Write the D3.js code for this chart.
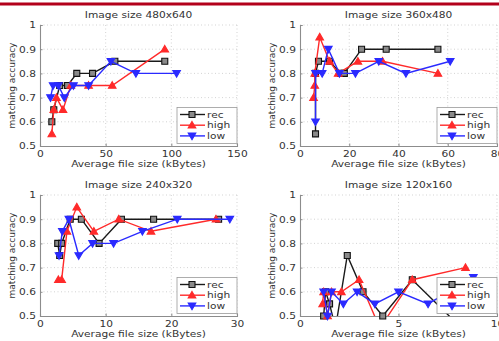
<!DOCTYPE html>
<html>
<head>
<meta charset="utf-8">
<script src="https://cdn.jsdelivr.net/npm/d3@7"></script>
<style>
  body { margin: 0; background: #fff; }
  svg { display: block; }
  text { font-family: "DejaVu Sans", sans-serif; fill: #333; }
</style>
</head>
<body>
<svg id="chart" width="499" height="341"></svg>
<script>
// Matching accuracy vs. average file size, one panel per image size.
const panelTitles = ["Image size 480x640", "Image size 360x480", "Image size 240x320", "Image size 120x160"];
const seriesNames = ["rec", "high", "low"];
const yTicks = [0.5, 0.6, 0.7, 0.8, 0.9, 1];
const yTickLabels = ["0.5", "0.6", "0.7", "0.8", "0.9", "1"];
const xTicks480 = [0, 50, 100, 150];
const xTicks360 = [0, 20, 40, 60, 80];
const xTicks240 = [0, 10, 20, 30];
const xTicks120 = [0, 5, 10];

// [average file size (kBytes), matching accuracy]
const rec480 = [[9,0.6],[10.5,0.65],[15,0.75],[21,0.75],[28,0.8],[40,0.8],[57,0.85],[95,0.85]];
const high480 = [[9,0.55],[10.5,0.65],[12.5,0.7],[17.5,0.65],[23.5,0.75],[37,0.75],[55,0.75],[95,0.9]];
const low480 = [[8,0.7],[10,0.75],[14,0.75],[18.5,0.7],[25.5,0.75],[37,0.75],[54,0.85],[73,0.8],[104,0.8]];

const rec360 = [[6.3,0.55],[6.3,0.8],[7.5,0.85],[12,0.85],[16.5,0.8],[18,0.8],[25,0.9],[35,0.9],[56,0.9]];
const high360 = [[5.5,0.7],[6,0.75],[6,0.8],[8,0.95],[12,0.85],[15.5,0.8],[23.5,0.85],[33.5,0.85],[56,0.8]];
const low360 = [[6.3,0.6],[6.3,0.8],[9,0.8],[11.5,0.9],[16,0.8],[22.5,0.8],[32,0.85],[43,0.8],[61,0.85]];

const rec240 = [[2.7,0.8],[3,0.75],[3.3,0.8],[4.6,0.9],[6.3,0.9],[9,0.8],[12.4,0.9],[17.3,0.9],[27.2,0.9]];
const high240 = [[2.8,0.65],[3.3,0.65],[4.1,0.85],[5.6,0.95],[8.2,0.85],[12,0.9],[16.9,0.85],[26.8,0.9]];
const low240 = [[2.9,0.75],[3.4,0.85],[4.4,0.9],[5.9,0.75],[8,0.8],[11.2,0.8],[15.6,0.85],[20.9,0.9],[28.9,0.9]];

const rec120 = [[1.2,0.5],[1.3,0.6],[1.5,0.55],[1.8,0.45],[2.4,0.75],[3.2,0.6],[4.2,0.5],[5.7,0.65],[8.2,0.45]];
const high120 = [[1.15,0.55],[1.2,0.6],[1.4,0.5],[1.6,0.6],[2.1,0.6],[3,0.65],[4.05,0.45],[5.7,0.65],[8.4,0.7]];
const low120 = [[1.2,0.6],[1.4,0.5],[1.6,0.6],[2.2,0.55],[2.9,0.6],[3.8,0.55],[5,0.6],[6.5,0.55],[8.8,0.66]];

const panels = [
  { title: panelTitles[0], xMax: 150, xTicks: xTicks480, series: [rec480, high480, low480], box: [40, 237, 25, 146] },
  { title: panelTitles[1], xMax: 80,  xTicks: xTicks360, series: [rec360, high360, low360], box: [300, 497, 25, 146] },
  { title: panelTitles[2], xMax: 30,  xTicks: xTicks240, series: [rec240, high240, low240], box: [40, 237, 195, 316] },
  { title: panelTitles[3], xMax: 10,  xTicks: xTicks120, series: [rec120, high120, low120], box: [300, 497, 195, 316] }
];

const styles = [
  { line: "#1a1a1a", fill: "#8a8a8a", stroke: "#111", shape: "square" },
  { line: "#ff2a2a", fill: "#ff2a2a", stroke: "#ff2a2a", shape: "up" },
  { line: "#2a2aff", fill: "#2a2aff", stroke: "#2a2aff", shape: "down" }
];

const svg = d3.select("#chart");

// top rule
svg.append("rect").attr("x", 0).attr("y", 2.5).attr("width", 499).attr("height", 3).attr("fill", "#b3001b");

function markerPath(shape) {
  if (shape === "square") return "M-3,-3H3V3H-3Z";
  if (shape === "up") return "M0,-3.8L3.8,2.8H-3.8Z";
  return "M0,3.8L3.8,-2.8H-3.8Z";
}

function drawMarker(g, st, x, y) {
  g.append("path")
    .attr("d", markerPath(st.shape))
    .attr("transform", `translate(${x},${y})`)
    .attr("fill", st.fill)
    .attr("stroke", st.stroke)
    .attr("stroke-width", 1.1);
}

const stretched = [];

panels.forEach((p, i) => {
  const [L, R, T, B] = p.box;
  const x = d3.scaleLinear().domain([0, p.xMax]).range([L, R]);
  const y = d3.scaleLinear().domain([0.5, 1]).range([B, T]);
  const g = svg.append("g");

  // dotted grid
  g.append("g").selectAll("line").data(p.xTicks.filter(t => t > 0)).join("line")
    .attr("x1", d => x(d)).attr("x2", d => x(d)).attr("y1", T).attr("y2", B)
    .attr("stroke", "#c8c8c8").attr("stroke-width", 0.8).attr("stroke-dasharray", "1,2.5");
  g.append("g").selectAll("line").data(yTicks.filter(t => t > 0.5)).join("line")
    .attr("x1", L).attr("x2", R).attr("y1", d => y(d)).attr("y2", d => y(d))
    .attr("stroke", "#c8c8c8").attr("stroke-width", 0.8).attr("stroke-dasharray", "1,2.5");

  // axes
  const xAxis = d3.axisBottom(x).tickValues(p.xTicks).tickSize(-2.5).tickPadding(4).tickFormat(d3.format("d"));
  const yAxis = d3.axisLeft(y).tickValues(yTicks).tickSize(-2.5).tickPadding(4)
    .tickFormat((d, k) => yTickLabels[k]);
  const gx = g.append("g").attr("transform", `translate(0,${B})`).call(xAxis);
  const gy = g.append("g").attr("transform", `translate(${L},0)`).call(yAxis);
  [gx, gy].forEach(a => {
    a.select(".domain").attr("stroke", "#8c8c8c").attr("stroke-width", 1.1);
    a.selectAll(".tick line").attr("stroke", "#8c8c8c");
    a.selectAll("text").attr("font-size", 9).attr("font-family", "DejaVu Sans, sans-serif").attr("fill", "#333");
  });
  gx.selectAll("text").attr("dy", "0.71em").attr("y", 5);
  gx.selectAll("text").each(function () { stretched.push(this); });
  gy.selectAll("text").each(function () { stretched.push(this); });

  // titles and labels
  stretched.push(g.append("text").attr("x", (L + R) / 2).attr("y", T - 7)
    .attr("text-anchor", "middle").attr("font-size", 9).attr("fill", "#222").text(p.title).node());
  stretched.push(g.append("text").attr("x", (L + R) / 2).attr("y", B + 21)
    .attr("text-anchor", "middle").attr("font-size", 9).attr("fill", "#222").text("Average file size (kBytes)").node());
  g.append("text").attr("transform", `translate(${L - 25},${(T + B) / 2}) rotate(-90)`)
    .attr("text-anchor", "middle").attr("font-size", 9).attr("fill", "#222").text("matching accuracy");

  // series
  const clipId = "clip" + i;
  svg.append("clipPath").attr("id", clipId).append("rect")
    .attr("x", L).attr("y", T).attr("width", R - L).attr("height", B - T);
  const line = d3.line().x(d => x(d[0])).y(d => y(d[1]));
  p.series.forEach((data, s) => {
    const st = styles[s];
    g.append("path").datum(data).attr("d", line).attr("fill", "none")
      .attr("stroke", st.line).attr("stroke-width", 1.4).attr("clip-path", `url(#${clipId})`);
    const mg = g.append("g");
    data.filter(d => d[1] >= 0.5 && d[0] <= p.xMax).forEach(d => drawMarker(mg, st, x(d[0]), y(d[1])));
  });

  // legend
  const lw = 60, lh = 36;
  const lg = g.append("g").attr("transform", `translate(${R - lw},${B - 2.5 - lh})`);
  lg.append("rect").attr("width", lw).attr("height", lh).attr("fill", "#fff")
    .attr("stroke", "#9a9a9a").attr("stroke-width", 0.8);
  seriesNames.forEach((name, s) => {
    const st = styles[s];
    const yy = 7 + s * 10.7;
    lg.append("line").attr("x1", 3).attr("x2", 28).attr("y1", yy).attr("y2", yy)
      .attr("stroke", st.line).attr("stroke-width", 1.4);
    drawMarker(lg, st, 15, yy);
    stretched.push(lg.append("text").attr("x", 30).attr("y", yy).attr("dy", "0.35em")
      .attr("font-size", 9).attr("fill", "#222").text(name).node());
  });
});

// slightly wide lettering
stretched.forEach(el => {
  const w = el.getComputedTextLength();
  el.setAttribute("textLength", (w * 1.18).toFixed(1));
  el.setAttribute("lengthAdjust", "spacingAndGlyphs");
});
</script>
</body>
</html>
